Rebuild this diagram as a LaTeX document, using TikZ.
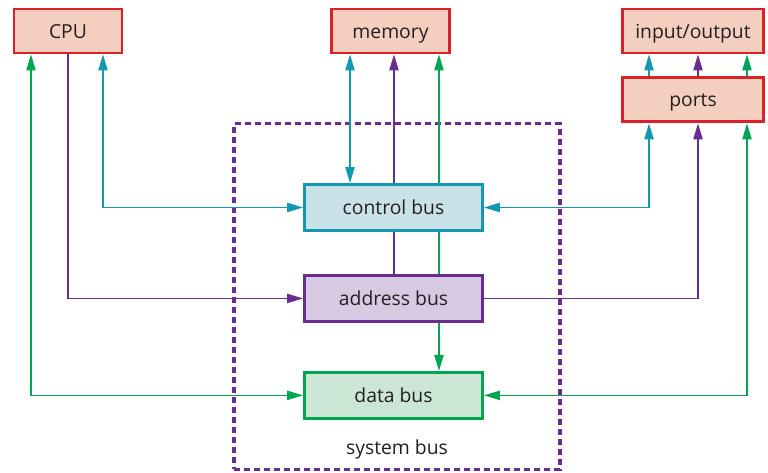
\documentclass[tikz,border=0pt]{standalone}
\usepackage{fontspec}
\setmainfont{Open Sans}
\usepackage{tikz}
\usetikzlibrary{positioning, arrows.meta, backgrounds}
\definecolor{unitred}{HTML}{DA2128}
\definecolor{unitfill}{HTML}{F4CFBF}
\definecolor{ctrlc}{HTML}{1399AF}
\definecolor{ctrlfill}{HTML}{C9E2E7}
\definecolor{addrc}{HTML}{6B2C91}
\definecolor{addrfill}{HTML}{D8C9E3}
\definecolor{datac}{HTML}{00A651}
\definecolor{datafill}{HTML}{CCE6D6}
\definecolor{ink}{HTML}{231F20}

\begin{document}
\begin{tikzpicture}[x=0.75pt, y=-0.75pt,
        every node/.style={font=\fontsize{14.5}{17}\selectfont, text=ink},
        box/.style={rectangle, draw, line width=2.2pt, inner sep=0pt,
          minimum height=33pt, text height=10.5pt, text depth=0pt, align=center},
        unit/.style={box, draw=unitred, fill=unitfill},
        bus/.style={box, minimum width=133.5pt, minimum height=34.5pt},
        tip/.style={-{Triangle[length=12pt, width=7pt]}, line width=1pt},
        dbl/.style={{Triangle[length=12pt, width=7pt]}-{Triangle[length=12pt, width=7pt]}, line width=1pt},
        sysbox/.style={draw=addrc, line width=2.4pt, dash pattern=on 4.5pt off 3pt,
          minimum width=244.5pt, minimum height=259pt}]

  \useasboundingbox (0,0) rectangle (768,472);

  % units at the top
  \node[unit, minimum width=81pt] (cpu) at (68,31) {CPU};
  \node[unit, minimum width=88.5pt] (mem) at (390.5,31) {memory};
  \node[unit, minimum width=106pt] (io) at (693,31) {input/output};
  \node[unit, minimum width=106pt, below=16.5pt of io] (ports) {ports};

  % the three buses
  \node[bus, draw=ctrlc, fill=ctrlfill] (ctrl) at (393.5,207.5) {control bus};
  \node[bus, draw=addrc, fill=addrfill, below=31.5pt of ctrl] (addr) {address bus};
  \node[bus, draw=datac, fill=datafill, below=36pt of addr] (data) {data bus};

  % lanes
  \foreach \n/\x in {cG/31, cP/68, cT/103, mT/350, mP/394, mG/439, pT/649, pP/698, pG/747}
    \coordinate (\n) at (\x,0);

  \begin{scope}[on background layer]
    \node[sysbox] (sys) at (397,296.5) {};
    \draw[tip, addrc] (addr.north -| mP) -- (mem.south -| mP);
    \draw[tip, datac] (addr.north -| mG) -- (mem.south -| mG);
  \end{scope}
  \node (syslbl) at (397,449) {system bus};

  \draw[dbl, datac] (cpu.south -| cG) |- (data.west);
  \draw[tip, addrc] (cpu.south -| cP) |- (addr.west);
  \draw[dbl, ctrlc] (cpu.south -| cT) |- (ctrl.west);
  \draw[dbl, ctrlc] (mem.south -| mT) -- (ctrl.north -| mT);
  \draw[tip, datac] (addr.south -| mG) -- (data.north -| mG);

  \draw[dbl, ctrlc] (ctrl.east) -| (ports.south -| pT);
  \draw[tip, addrc] (addr.east) -| (ports.south -| pP);
  \draw[dbl, datac] (data.east) -| (ports.south -| pG);

  \foreach \l/\c in {pT/ctrlc, pP/addrc, pG/datac}
    \draw[tip, \c] (ports.north -| \l) -- (io.south -| \l);
\end{tikzpicture}
\end{document}
